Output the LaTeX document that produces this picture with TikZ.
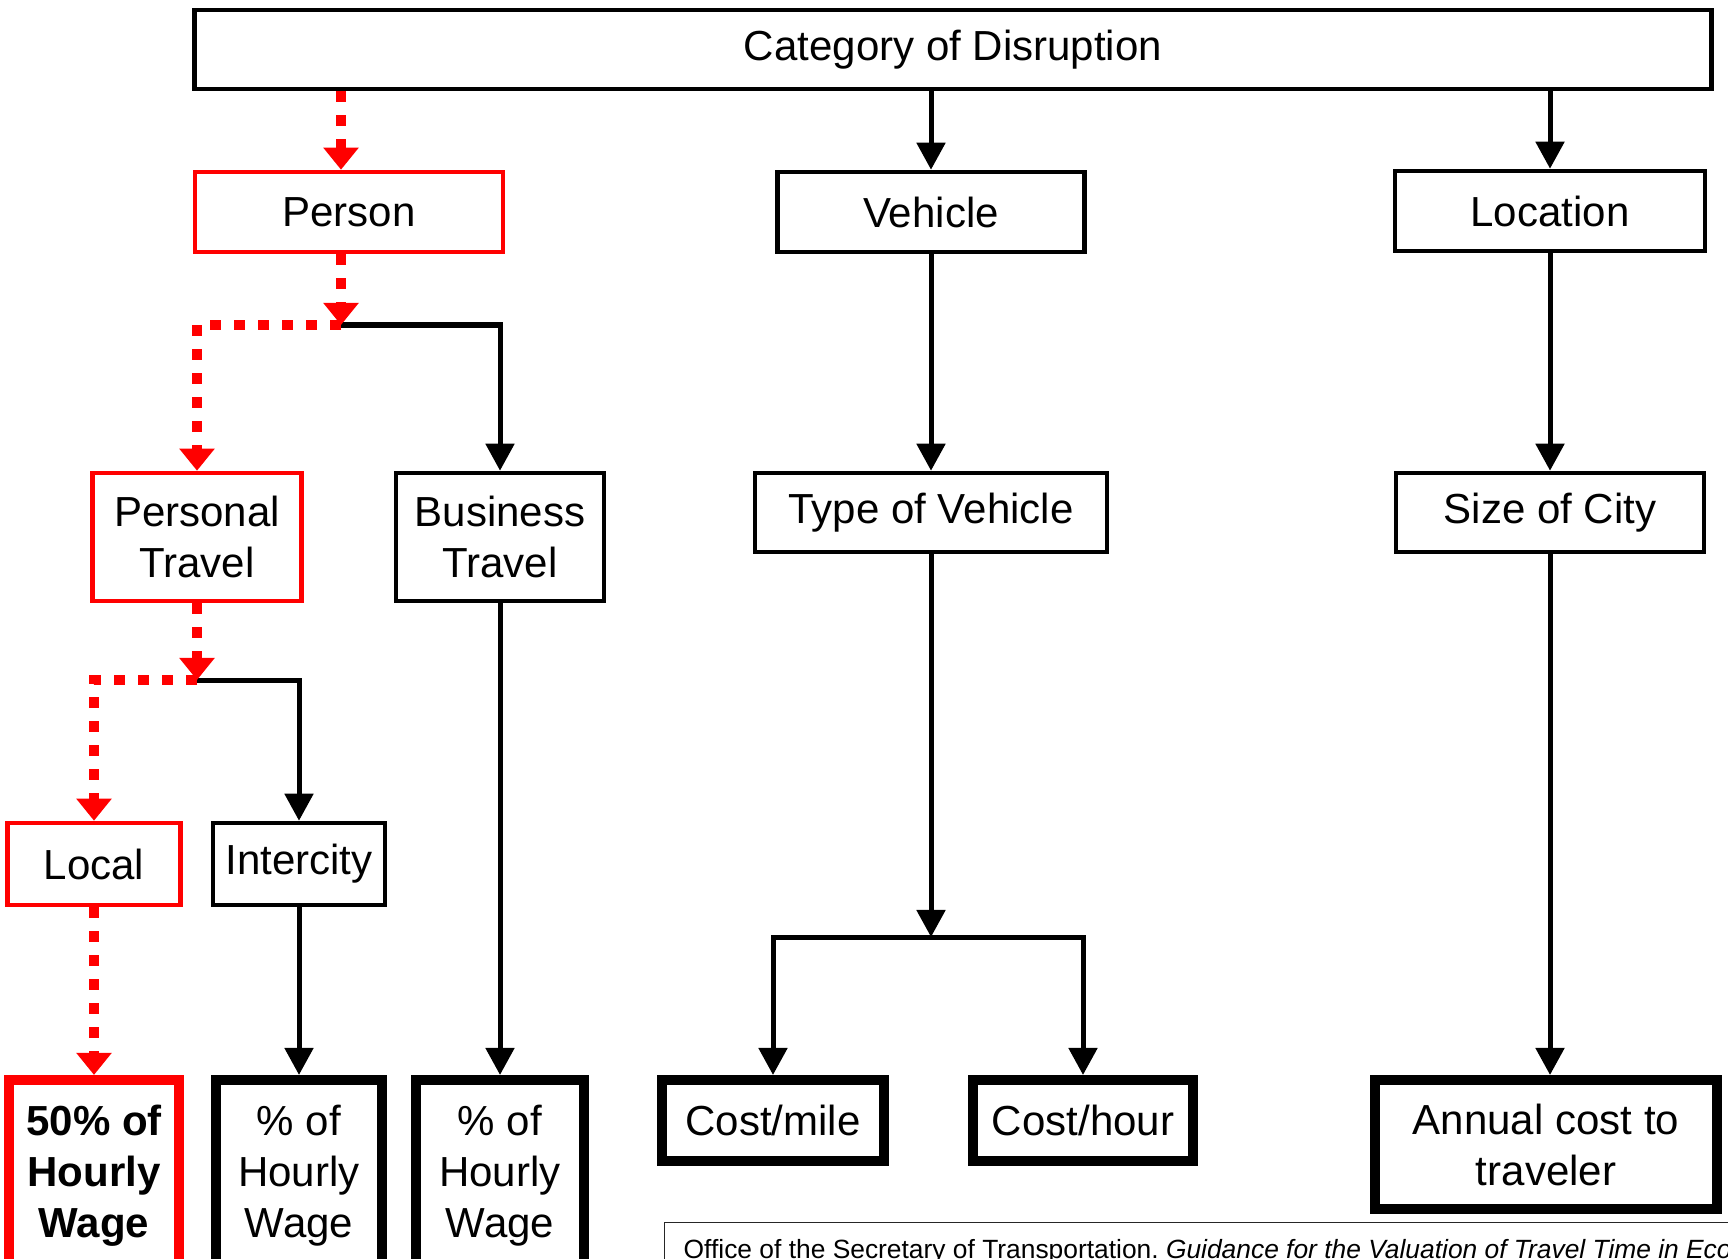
\documentclass[tikz,border=0pt]{standalone}
\usepackage{fontspec}
\setmainfont{Liberation Sans}
\usepackage{tikz}
\usetikzlibrary{arrows.meta, positioning, calc}
\tikzset{
  box/.style={rectangle, draw=black, line width=0.045cm, inner sep=0pt,
              align=center, fill=white},
  redbox/.style={box, draw=red},
  endbox/.style={box, line width=0.1cm},
  redendbox/.style={endbox, draw=red},
  arrow/.style={-{Triangle[length=0.27cm, width=0.28cm]}, line width=0.05cm},
  redarrow/.style={-{Triangle[length=0.22cm, width=0.34cm]}, draw=red,
                   line width=0.1cm, dash pattern=on 0.11cm off 0.13cm},
}
\newcommand{\boxfont}{\fontsize{11.95}{14.5}\selectfont}

\begin{document}
\begin{tikzpicture}[x=0.01cm, y=-0.01cm, font=\boxfont]

\useasboundingbox (0,0) rectangle (1728,1258);
\clip (0,0) rectangle (1728,1258);

% ── top level ────────────────────────────────────────────────────────────────
\node[box, minimum width=15.16cm, minimum height=0.79cm] (cat) at (953,49.5)
  {Category of Disruption};

% ── second level ─────────────────────────────────────────────────────────────
\node[redbox, minimum width=3.08cm, minimum height=0.80cm] (person) at (349,212) {Person};
\node[box, minimum width=3.07cm, minimum height=0.80cm] (vehicle) at (931,212) {Vehicle};
\node[box, minimum width=3.10cm, minimum height=0.80cm] (location) at (1550,211) {Location};

% ── third level ──────────────────────────────────────────────────────────────
\node[redbox, minimum width=2.09cm, minimum height=1.28cm] (perstr) at (197,537)
  {Personal\\Travel};
\node[box, minimum width=2.08cm, minimum height=1.28cm] (bustr) at (500,537)
  {Business\\Travel};
\node[box, minimum width=3.52cm, minimum height=0.79cm] (tov) at (931,512.5)
  {Type of Vehicle};
\node[box, minimum width=3.08cm, minimum height=0.79cm] (soc) at (1550,512.5)
  {Size of City};

% ── personal travel split ────────────────────────────────────────────────────
\node[redbox, minimum width=1.73cm, minimum height=0.82cm] (local) at (94,864) {Local};
\node[box, minimum width=1.72cm, minimum height=0.82cm] (intercity) at (299,864) {Intercity};

% ── results ──────────────────────────────────────────────────────────────────
\node[redendbox, minimum width=1.70cm, minimum height=1.92cm, font=\boxfont\bfseries]
  (wage50) at (94,1176) {50\% of\\Hourly\\Wage};
\node[endbox, minimum width=1.65cm, minimum height=1.92cm] (pwage1) at (299,1176)
  {\% of\\Hourly\\Wage};
\node[endbox, minimum width=1.67cm, minimum height=1.92cm] (pwage2) at (500,1176)
  {\% of\\Hourly\\Wage};
\node[endbox, minimum width=2.21cm, minimum height=0.81cm] (costmile) at (773,1120.5)
  {Cost/mile};
\node[endbox, minimum width=2.20cm, minimum height=0.81cm] (costhour) at (1083,1120.5)
  {Cost/hour};
\node[endbox, minimum width=3.41cm, minimum height=1.29cm] (annual) at (1546,1144.5)
  {Annual cost to\\traveler};

% ── source note ──────────────────────────────────────────────────────────────
\node[draw=black!85, line width=0.4pt, anchor=north west, inner xsep=0.19cm,
      inner ysep=0.17cm, font=\fontsize{7.5}{9}\selectfont\frenchspacing] (cite) at (664,1222)
  {Office of the Secretary of Transportation. \textit{Guidance for the Valuation of Travel Time in Economic Analysis}};

% ── junctions ────────────────────────────────────────────────────────────────
\coordinate (pj) at (341,325);
\coordinate (tj) at (197,680);
\coordinate (vj) at (931,937);

% ── connectors ───────────────────────────────────────────────────────────────
\draw[arrow] (cat.south -| vehicle.north) -- (vehicle.north);
\draw[arrow] (cat.south -| location.north) -- (location.north);
\draw[arrow] (pj) -| (bustr.north);
\draw[arrow] (tj) -| (intercity.north);
\draw[arrow] (intercity.south) -- (pwage1.north);
\draw[arrow] (bustr.south) -- (pwage2.north);
\draw[arrow] (vehicle.south) -- (tov.north);
\draw[arrow] (tov.south) -- (vj);
\draw[arrow] (vj) -| (costmile.north);
\draw[arrow] (vj) -| (costhour.north);
\draw[arrow] (location.south) -- (soc.north);
\draw[arrow] (soc.south) -- (soc.south |- annual.north);

% highlighted path
\draw[redarrow] (cat.south -| pj) -- (person.north -| pj);
\draw[redarrow] (person.south -| pj) -- (pj);
\draw[redarrow] (pj) -| (perstr.north);
\draw[redarrow] (perstr.south) -- (tj);
\draw[redarrow] (tj) -| (local.north);
\draw[redarrow] (local.south) -- (wage50.north);

\end{tikzpicture}
\end{document}
